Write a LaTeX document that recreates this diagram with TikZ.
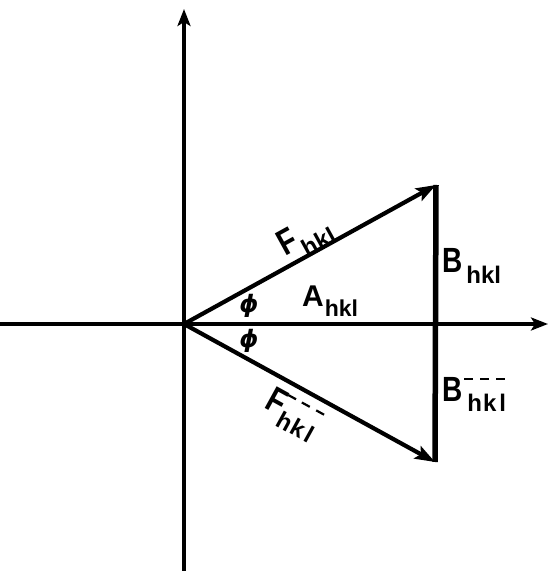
\documentclass[tikz,border=0pt]{standalone}
\usepackage{fontspec}
\setmainfont{Liberation Sans}[FakeStretch=0.8]
\newfontfamily\subf{Liberation Sans}
\newfontfamily\phifont{DejaVu Sans}
\usetikzlibrary{arrows.meta}
\newcommand\ob[1]{\vbox{\moveleft3pt\hbox{\vrule height2.2pt width9pt}\kern8pt\hbox{#1}}}
\newcommand\sbx[4]{\kern#1\raisebox{-#2}{\subf\bfseries\fontsize{#3}{#3}\selectfont #4}}
\tikzset{
  axis/.style={line width=3.2pt,-{Stealth[length=17pt,width=13pt,inset=4pt]}},
  vec/.style={line width=4.2pt,-{Stealth[length=20pt,width=14pt,inset=4pt]}},
  bline/.style={line width=5.5pt},
  lab/.style={inner sep=0pt,font=\bfseries},
}
\begin{document}
\begin{tikzpicture}[x=1pt,y=1pt]
\useasboundingbox (0,0) rectangle (548,571);
\coordinate (O) at (184,247);
\coordinate (xl) at (0,247);
\coordinate (xr) at (548,247);
\coordinate (yb) at (184,0);
\coordinate (yt) at (184,562);
\coordinate (U) at (436,386);
\coordinate (L) at (435,109);
\draw[axis] (xl) -- (xr);
\draw[axis] (yb) -- (yt);
\draw[vec] (O) -- (U);
\draw[vec] (O) -- (L);
\draw[bline] (U) -- (L);
\node[lab,anchor=base west] (Bu) at (442,298) {\fontsize{35}{35}\selectfont B\sbx{4pt}{11pt}{24}{hkl}};
\node[lab,anchor=base west] (Bd) at (442,169) {\fontsize{35}{35}\selectfont B\sbx{5pt}{10pt}{24}{\ob{h}\kern1pt\ob{k}\kern3pt\ob{l}}};
\node[lab,anchor=base west] (Ah) at (302,264) {\subf\fontsize{30}{30}\selectfont A\sbx{1pt}{10pt}{23}{hkl}};
\node[lab] (phiu) at (249,265) {\phifont\fontsize{24}{24}\selectfont\itshape ϕ};
\node[lab] (phid) at (249,230) {\phifont\fontsize{24}{24}\selectfont\itshape ϕ};
\node[lab,rotate=28.8] (Fu) at (306,333) {\fontsize{36}{36}\selectfont F\sbx{1pt}{11pt}{24}{hkl}};
\node[lab,rotate=-28.8] (Fd) at (292,156) {\fontsize{36}{36}\selectfont F\sbx{1pt}{10pt}{24}{\ob{h}\kern1pt\ob{k}\kern3pt\ob{l}}};
\end{tikzpicture}
\end{document}
